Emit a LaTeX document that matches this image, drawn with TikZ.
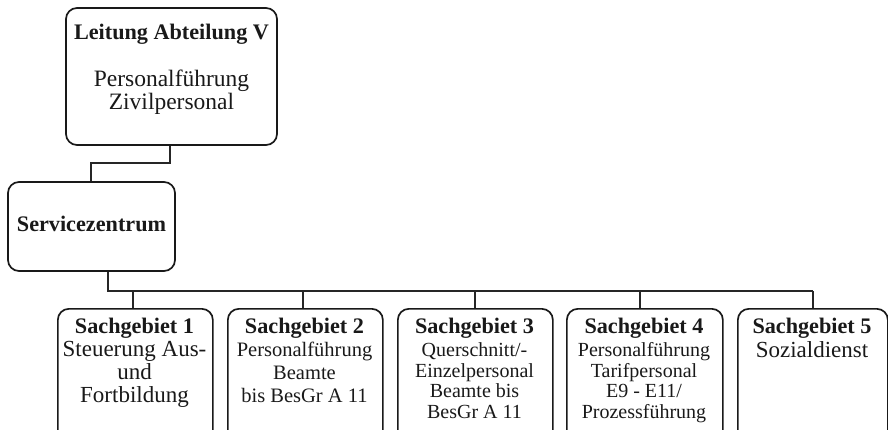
\documentclass[tikz,border=0pt]{standalone}
\usepackage{fontspec}
\setmainfont{Liberation Serif}
\begin{document}
\begin{tikzpicture}[x=1pt,y=-1pt,
  box/.style={draw=black!90, line width=1.7pt, rounded corners=11pt, inner sep=0pt},
  conn/.style={draw=black!85, line width=1.6pt},
  txt/.style={align=center, inner sep=0pt, anchor=north, text=black!90},
  ttl/.style={font=\fontsize{22.2}{23}\selectfont\bfseries},
  big/.style={font=\fontsize{23.5}{23}\selectfont},
  mid/.style={font=\fontsize{23}{23}\selectfont},
  sml/.style={font=\fontsize{20.5}{23}\selectfont},
  smlr/.style={font=\fontsize{20}{20.5}\selectfont}]
\useasboundingbox (0,0) rectangle (888,430);
\clip (0,0) rectangle (888,430);
% boxes
\node[box, minimum width=211pt, minimum height=137pt] (lead) at (171.5,76.5) {};
\node[box, minimum width=167pt, minimum height=89pt] (svc) at (91.5,226.5) {};
\node[box, minimum width=155pt, minimum height=140pt, anchor=north west] (s1) at (57,308) {};
\node[box, minimum width=155pt, minimum height=140pt, anchor=north west] (s2) at (227,308) {};
\node[box, minimum width=155pt, minimum height=140pt, anchor=north west] (s3) at (397,308) {};
\node[box, minimum width=156pt, minimum height=140pt, anchor=north west] (s4) at (566,308) {};
\node[box, minimum width=150pt, minimum height=140pt, anchor=north west] (s5) at (737,308) {};
% texts
\node[txt, ttl, anchor=base] (tlead) at (171.5,40) {Leitung Abteilung V};
\node[txt, big, anchor=base] (blead) at (171.5,87) {Personalführung};
\node[txt, big, anchor=base] (blead2) at (171.5,110) {Zivilpersonal};
\node[txt, ttl, anchor=base] (tsvc) at (91.5,232) {Servicezentrum};
\node[txt, ttl, anchor=base] (t1) at (134.5,333) {Sachgebiet 1};
\node[txt, mid, anchor=north] (b1) at (134.5,341) {Steuerung Aus-\\und\\Fortbildung};
\node[txt, ttl, anchor=base] (t2) at (304.5,333) {Sachgebiet 2};
\node[txt, sml, anchor=north] (b2) at (304.5,342) {Personalführung\\Beamte\\bis BesGr A 11};
\node[txt, ttl, anchor=base] (t3) at (474.5,333) {Sachgebiet 3};
\node[txt, smlr, anchor=north] (b3) at (474.5,342.5) {Querschnitt/-\\Einzelpersonal\\Beamte bis\\BesGr A 11};
\node[txt, ttl, anchor=base] (t4) at (644,333) {Sachgebiet 4};
\node[txt, smlr, anchor=north] (b4) at (644,342.5) {Personalführung\\Tarifpersonal\\E9 - E11/\\Prozessführung};
\node[txt, ttl, anchor=base] (t5) at (812,333) {Sachgebiet 5};
\node[txt, mid, anchor=north] (b5) at (812,341) {Sozialdienst};
% connectors
\coordinate (j1) at (170,163);
\coordinate (bus) at (108,291);
\draw[conn] (lead.south -| j1) -- (j1) -- (91,163) -- (svc.north -| 91,0);
\draw[conn] (svc.south -| bus) -- (bus) -- (813,291);
\draw[conn] (133,291) -- (s1.north -| 133,0);
\draw[conn] (303,291) -- (s2.north -| 303,0);
\draw[conn] (475,291) -- (s3.north -| 475,0);
\draw[conn] (640,291) -- (s4.north -| 640,0);
\draw[conn] (813,291) -- (s5.north -| 813,0);
\end{tikzpicture}
\end{document}
